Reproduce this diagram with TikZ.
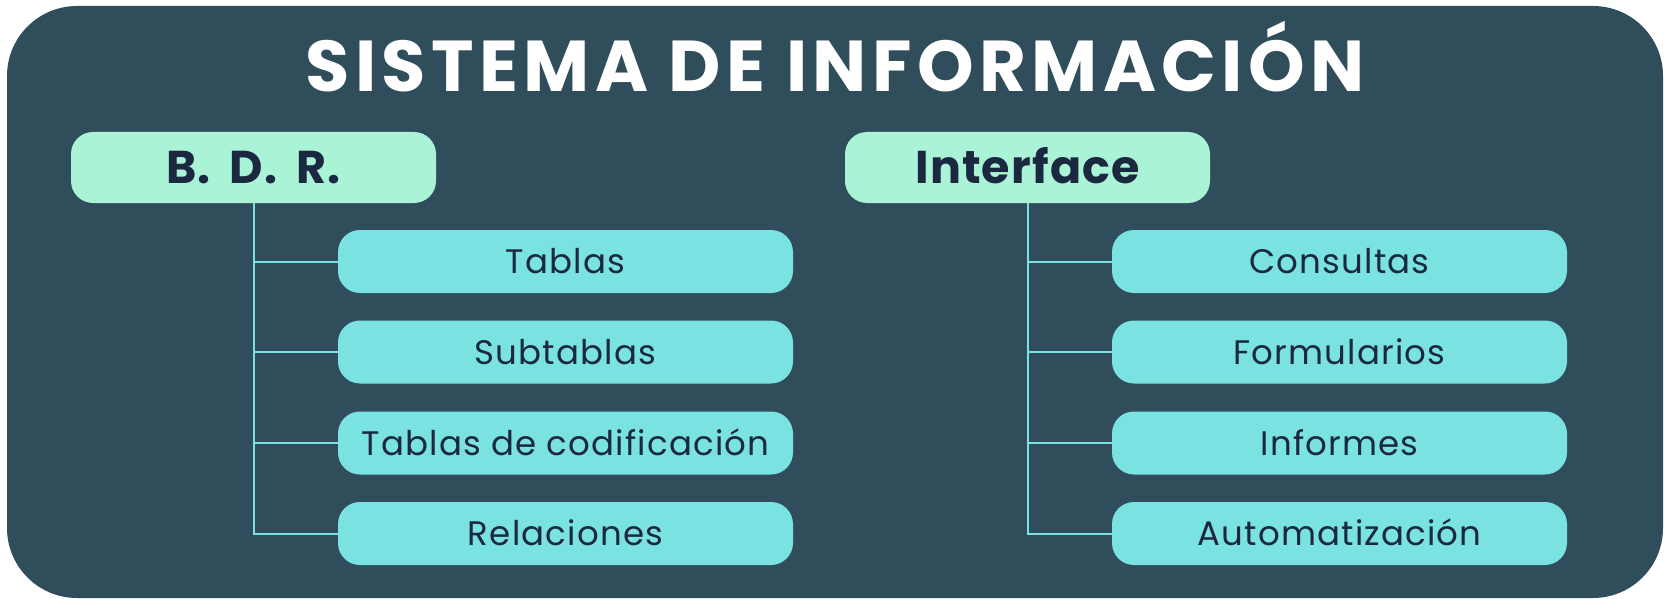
\documentclass[tikz,border=0pt]{standalone}
\usepackage{fontspec}
\setmainfont{Poppins}
\newfontfamily\titlefont[LetterSpace=7.5]{Poppins}
\newfontfamily\parentfont[LetterSpace=2.5]{Poppins}
\newfontfamily\childfont[LetterSpace=3.5]{Poppins}
\definecolor{bgcol}{HTML}{2F4D5B}
\definecolor{mint}{HTML}{ABF3D6}
\definecolor{aqua}{HTML}{7AE3E2}
\definecolor{navy}{HTML}{1B2940}
\tikzset{
  parentbox/.style={fill=mint, rounded corners=11pt, minimum width=182.5pt, minimum height=35.5pt,
    inner sep=0pt, text=navy, font=\parentfont\fontsize{23}{25}\selectfont\bfseries, text height=16pt, text depth=0pt},
  childbox/.style={fill=aqua, rounded corners=11pt, minimum width=227.5pt, minimum height=31.5pt,
    inner sep=0pt, text=navy, font=\childfont\fontsize{17}{19}\selectfont, text height=12pt, text depth=0pt},
  branch/.style={draw=aqua, line width=1pt},
}
\begin{document}
\begin{tikzpicture}[x=0.5pt,y=-0.5pt]
\useasboundingbox (0,0) rectangle (1666,599);
\fill[white] (0,0) rectangle (1666,599);
\fill[bgcol, rounded corners=35pt] (7,6) rectangle (1663,598);
\node[anchor=base, text=white, font=\titlefont\fontsize{36}{40}\selectfont\bfseries, inner sep=0pt] (title) at (835,92) {SISTEMA DE INFORMACIÓN};

\node[parentbox] (bdr) at (253.5,167.5) {B.\hspace{4pt} D.\hspace{4pt} R.};
\node[parentbox] (itf) at (1027.5,167.5) {Interface};

\node[childbox] (a1) at (565.5,261.5) {Tablas};
\node[childbox] (a2) at (565.5,352) {Subtablas};
\node[childbox] (a3) at (565.5,443) {Tablas de codificación};
\node[childbox] (a4) at (565.5,533.5) {Relaciones};

\node[childbox] (b1) at (1339.5,261.5) {Consultas};
\node[childbox] (b2) at (1339.5,352) {Formularios};
\node[childbox] (b3) at (1339.5,443) {Informes};
\node[childbox] (b4) at (1339.5,533.5) {Automatización};

\draw[branch] (bdr.south) -- (bdr.south |- a4.west) -- (a4.west);
\foreach \c in {a1,a2,a3} \draw[branch] (bdr.south |- \c.west) -- (\c.west);
\draw[branch] (itf.south) -- (itf.south |- b4.west) -- (b4.west);
\foreach \c in {b1,b2,b3} \draw[branch] (itf.south |- \c.west) -- (\c.west);
\end{tikzpicture}
\end{document}
